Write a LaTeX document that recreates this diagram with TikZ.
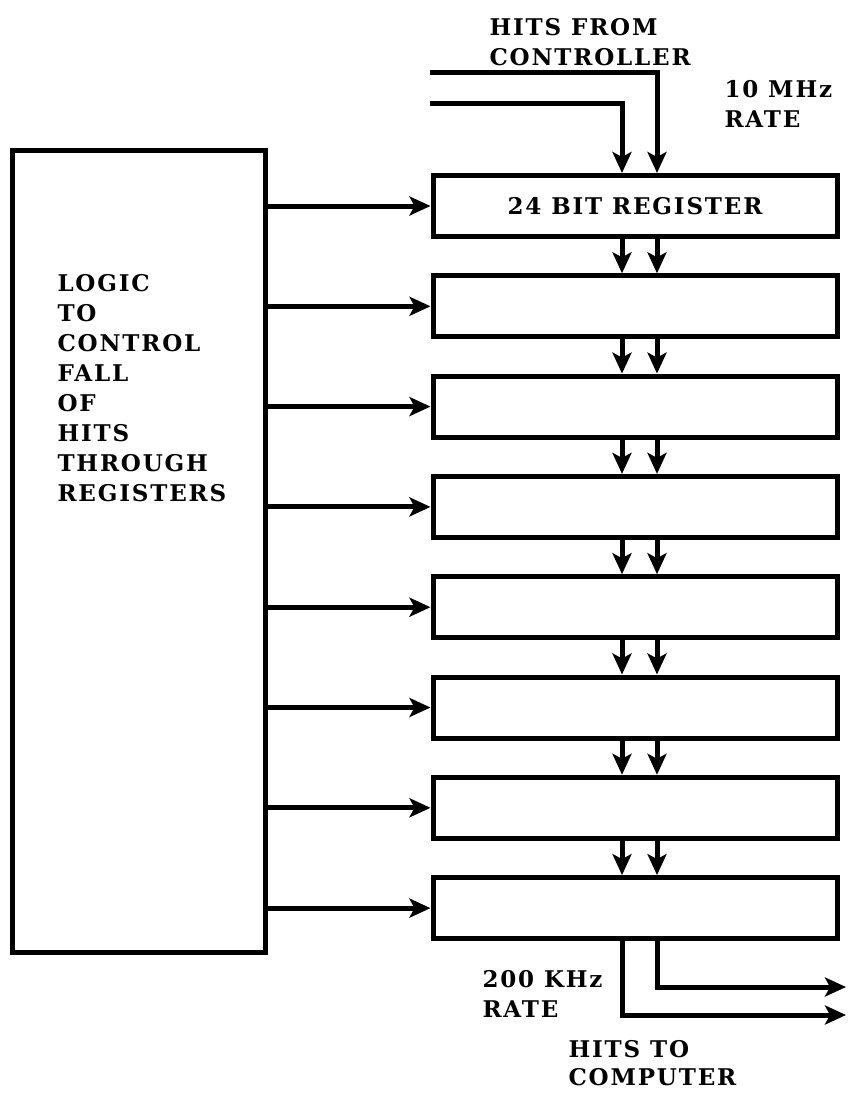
\documentclass[tikz,border=0pt]{standalone}
\usepackage{fontspec}
\usetikzlibrary{arrows.meta,positioning,calc}
\newfontfamily\labelfont[LetterSpace=8]{DejaVu Serif}

\begin{document}
\begin{tikzpicture}[x=1pt, y=-1pt, line width=5pt,
        >={Stealth[length=21pt, width=19pt, inset=5pt]},
        regbox/.style={draw, minimum width=404pt, minimum height=61pt, inner sep=0pt},
        logicbox/.style={draw, minimum width=253pt, minimum height=802pt, inner sep=0pt},
        lbl/.style={font=\labelfont\bfseries\fontsize{23}{30}\selectfont, align=left, anchor=north west, inner sep=0pt}]
        \useasboundingbox (0, 0) rectangle (848, 1095);

        % Control logic
        \node[logicbox] (logic) at (138.5, 551) {};
        \node[lbl] (logictext) at (55, 272) {LOGIC\\TO\\CONTROL\\FALL\\OF\\HITS\\THROUGH\\REGISTERS};

        % Register stack
        \node[regbox, font=\labelfont\bfseries\fontsize{23}{30}\selectfont] (reg1) at (635, 206) {24 BIT REGISTER};
        \foreach \i in {2,...,8}
            \node[regbox] (reg\i) at (635, 206 + 100.3*\i - 100.3) {};

        % Load lines from the logic
        \foreach \i in {1,...,8}
            \draw[->] (logic.east |- reg\i.west) -- (reg\i.west);

        % Fall of hits between registers
        \foreach \i [evaluate=\i as \j using int(\i+1)] in {1,...,7} {
            \draw[->] ([xshift=-13pt]reg\i.south) -- ([xshift=-13pt]reg\j.north);
            \draw[->] ([xshift=22pt]reg\i.south) -- ([xshift=22pt]reg\j.north);
        }

        % Input from controller
        \coordinate (inA) at (430, 72);
        \coordinate (inB) at (430, 103);
        \draw[->] (inA) -| ([xshift=22pt]reg1.north);
        \draw[->] (inB) -| ([xshift=-13pt]reg1.north);
        \node[lbl] (fromlbl) at (487, 16) {HITS FROM\\CONTROLLER};
        \node[lbl] (inrate) at (722, 78) {10 MHz\\RATE};

        % Output to computer
        \coordinate (outA) at (846, 987);
        \coordinate (outB) at (846, 1015);
        \draw[->] ([xshift=22pt]reg8.south) |- (outA);
        \draw[->] ([xshift=-13pt]reg8.south) |- (outB);
        \node[lbl] (outrate) at (480, 968) {200 KHz\\RATE};
        \node[lbl, font=\labelfont\bfseries\fontsize{23}{28}\selectfont] (tolbl) at (566, 1038) {HITS TO\\COMPUTER};
    \end{tikzpicture}
\end{document}
